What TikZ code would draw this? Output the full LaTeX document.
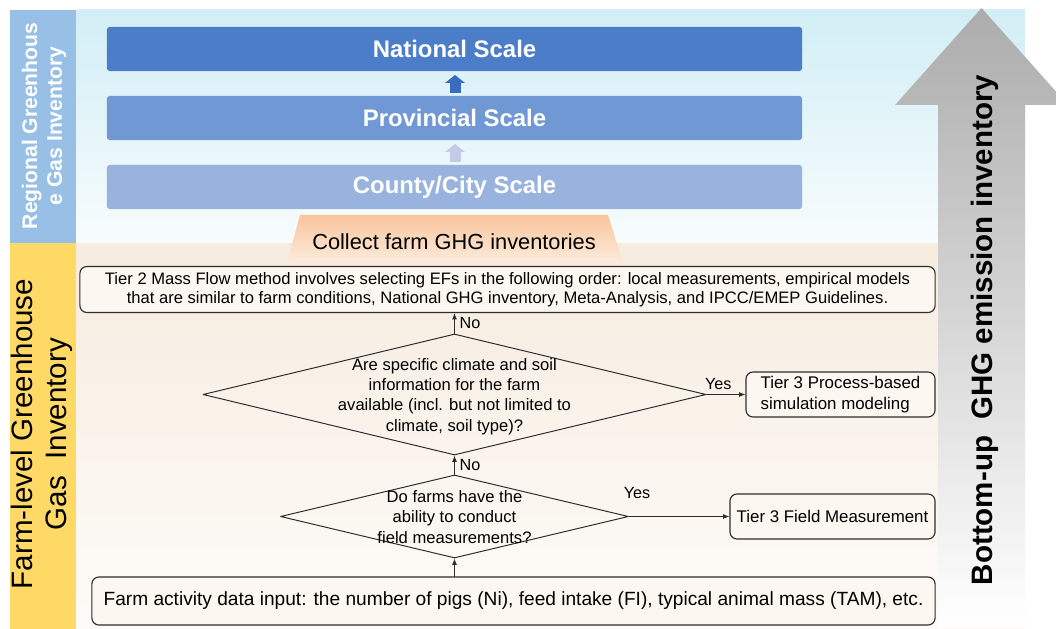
\documentclass[tikz,border=0pt]{standalone}
\usepackage{fontspec}
\setmainfont{Liberation Sans}
\usetikzlibrary{shapes.geometric,arrows.meta,positioning}
\definecolor{regbar}{RGB}{152,192,230}
\definecolor{farmbar}{RGB}{255,217,102}
\definecolor{skytop}{RGB}{210,238,246}
\definecolor{skybot}{RGB}{247,252,253}
\definecolor{farmtop}{RGB}{246,236,223}
\definecolor{farmbot}{RGB}{253,251,248}
\definecolor{natc}{RGB}{76,125,201}
\definecolor{provc}{RGB}{112,152,212}
\definecolor{ctyc}{RGB}{152,179,222}
\definecolor{arrdark}{RGB}{58,108,190}
\definecolor{arrlight}{RGB}{196,203,232}
\definecolor{trtop}{RGB}{249,196,156}
\definecolor{trbot}{RGB}{252,236,220}
\definecolor{boxfill}{RGB}{252,247,240}
\definecolor{linec}{RGB}{45,45,45}
\begin{document}
\begin{tikzpicture}[x=0.025cm,y=-0.025cm,line cap=round,line join=round,
    scalebar/.style={rounded corners=2pt,minimum width=17.375cm,minimum height=1.1cm,text=white,font=\bfseries\fontsize{17}{20}\selectfont},
    flowbox/.style={draw=linec,line width=0.8pt,fill=boxfill,rounded corners=5pt,inner sep=0pt,font=\fontsize{12}{14.5}\selectfont},
    decision/.style={diamond,draw=linec,line width=0.7pt,inner sep=0pt},
    qtext/.style={align=center,font=\fontsize{11.8}{14.5}\selectfont},
    answer/.style={font=\fontsize{11.5}{14}\selectfont},
    flow/.style={draw=linec,line width=0.6pt,-{Latex[length=4.5pt,width=3.5pt]}}]
\useasboundingbox (0,0) rectangle (1056,629);
\shade[top color=skytop,bottom color=skybot] (76,10) rectangle (1025,243);
\shade[top color=farmtop,bottom color=farmbot] (76,243) rectangle (1025,629);
\fill[regbar] (10,10) rectangle (76,243);
\fill[farmbar] (10,243) rectangle (76,629);
\node[rotate=90,text=white,align=center,font=\bfseries\fontsize{15}{17.5}\selectfont] (regtitle) at (44,126) {Regional Greenhous\\e Gas Inventory};
\node[rotate=90,align=center,font=\fontsize{21}{24}\selectfont] (farmtitle) at (42,434) {Farm-level Greenhouse\\Gas\ \ Inventory};
\shade[top color=gray!65,bottom color=white] (938,627) -- (938,105) -- (895,105) -- (981.5,8) -- (1068,105) -- (1025,105) -- (1025,627) -- cycle;
\node[rotate=90,font=\bfseries\fontsize{21}{25}\selectfont] (bottomup) at (985,330) {Bottom-up\ \ GHG emission inventory};
\foreach \n/\y/\c/\t in {nat/49/natc/National Scale,prov/118/provc/Provincial Scale,cty/187/ctyc/{County/City Scale}}
  \node[scalebar,fill=\c] (\n) at (454.5,\y) {\t};
\tikzset{uparr/.pic={\fill[#1] (-5.5,0) rectangle (5.5,-10);\fill[#1] (-10,-10) -- (0,-18) -- (10,-10) -- cycle;}}
\pic at (455,93) {uparr=arrdark};
\pic at (455,162) {uparr=arrlight};
\shade[top color=trtop,bottom color=trbot] (300,215) -- (608,215) -- (623,263) -- (287,263) -- cycle;
\node[font=\fontsize{15.5}{18}\selectfont] (collect) at (454,242) {Collect farm GHG inventories};
\node[flowbox,minimum width=21.375cm,minimum height=1.15cm,align=center,font=\fontsize{11.8}{13.8}\selectfont] (tiertwo) at (507.5,289.5) {Tier 2 Mass Flow method involves selecting EFs in the following order: local measurements, empirical models\\that are similar to farm conditions, National GHG inventory, Meta-Analysis, and IPCC/EMEP Guidelines.};
\node[decision,minimum width=12.575cm,minimum height=3.025cm] (dcl) at (454.5,394.5) {};
\node[qtext] (dcltext) at (454.5,396.5) {Are specific climate and soil\\information for the farm\\available (incl. but not limited to\\climate, soil type)?};
\node[decision,minimum width=8.7cm,minimum height=2.075cm] (dfm) at (454.5,516.5) {};
\node[qtext] (dfmtext) at (454.5,517) {Do farms have the\\ability to conduct\\field measurements?};
\node[flowbox,minimum width=4.725cm,minimum height=1.125cm,align=left] (proc) at (840.5,394.5) {Tier 3 Process-based\\simulation modeling};
\node[flowbox,minimum width=5.125cm,minimum height=1.125cm] (field) at (832.5,516.5) {Tier 3 Field Measurement};
\node[flowbox,minimum width=21.075cm,minimum height=1.2cm,font=\fontsize{13.6}{16}\selectfont] (input) at (513.5,601) {Farm activity data input: the number of pigs (Ni), feed intake (FI), typical animal mass (TAM), etc.};
\draw[flow] (dfm.south |- input.north) -- (dfm.south);
\draw[flow] (dfm.north) -- node[answer,right] (noa) {No} (dcl.south);
\draw[flow] (dcl.north) -- node[answer,right] (nob) {No} (dcl.north |- tiertwo.south);
\draw[flow] (dcl.east) -- node[answer,above,pos=0.3] (yesa) {Yes} (proc.west);
\draw[flow] (dfm.east) -- node[answer,above=9pt,pos=0.08] (yesb) {Yes} (field.west);
\end{tikzpicture}
\end{document}
